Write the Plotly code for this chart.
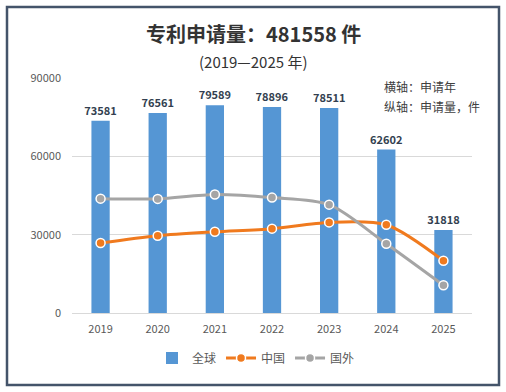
import plotly.graph_objects as go

years = ["2019", "2020", "2021", "2022", "2023", "2024", "2025"]
global_vals = [73581, 76561, 79589, 78896, 78511, 62602, 31818]
china_vals = [26800, 29600, 31100, 32300, 34700, 33800, 20000]
foreign_vals = [43800, 43700, 45400, 44200, 41500, 26500, 10600]
y_ticks = [0, 30000, 60000, 90000]

FONT = "Noto Sans CJK SC"

fig = go.Figure()
fig.add_trace(go.Bar(
    x=years, y=global_vals, name="全球", width=0.32,
    marker=dict(color="#5596d4", line=dict(width=0)),
    text=[str(v) for v in global_vals], textposition="outside",
    textfont=dict(family=FONT, size=11, color="#333f50", weight="bold"),
    constraintext="none", cliponaxis=False,
))
fig.add_trace(go.Scatter(
    x=years, y=china_vals, name="中国", mode="lines+markers",
    line=dict(color="#f07a1e", width=3, shape="spline", smoothing=0.8),
    marker=dict(size=9, color="#f07a1e", line=dict(color="white", width=1.5)),
))
fig.add_trace(go.Scatter(
    x=years, y=foreign_vals, name="国外", mode="lines+markers",
    line=dict(color="#a5a5a5", width=3, shape="spline", smoothing=0.8),
    marker=dict(size=9, color="#a5a5a5", line=dict(color="white", width=1.5)),
))

fig.update_layout(
    width=506, height=392,
    margin=dict(l=72, r=34, t=78, b=79),
    paper_bgcolor="white", plot_bgcolor="white",
    font=dict(family=FONT, size=11, color="#595959"),
    showlegend=True,
    legend=dict(orientation="h", x=0.46, xanchor="center", y=-0.13, yanchor="top",
                font=dict(family=FONT, size=12, color="#595959"),
                itemwidth=30, tracegroupgap=0),
    xaxis=dict(range=[-0.5, 6.5], showgrid=False, showline=False, ticks="",
               ticklabelstandoff=8,
               tickfont=dict(family=FONT, size=11, color="#595959")),
    yaxis=dict(range=[0, 90000], tickvals=y_ticks, ticktext=[str(v) for v in y_ticks],
               showgrid=True, gridcolor="#d9d9d9", gridwidth=1, zeroline=True,
               zerolinecolor="#d9d9d9", zerolinewidth=1, ticks="", ticklabelstandoff=10,
               tickfont=dict(family=FONT, size=11, color="#595959")),
    bargap=0.5,
)

fig.add_annotation(xref="paper", yref="paper", x=0.4525, y=(313 - 34) / 235,
                   text="<b>专利申请量：481558 件</b>", showarrow=False,
                   font=dict(family=FONT, size=20, color="#333333"),
                   xanchor="center", yanchor="middle")
fig.add_annotation(xref="paper", yref="paper", x=0.4525, y=(313 - 62) / 235,
                   text="(2019—2025 年)", showarrow=False,
                   font=dict(family=FONT, size=15, color="#333333"),
                   xanchor="center", yanchor="middle")
fig.add_annotation(xref="paper", yref="paper", x=(382 - 72) / 400, y=(313 - 86) / 235,
                   text="横轴：申请年", showarrow=False,
                   font=dict(family=FONT, size=12, color="#404040"),
                   xanchor="left", yanchor="middle")
fig.add_annotation(xref="paper", yref="paper", x=(382 - 72) / 400, y=(313 - 107) / 235,
                   text="纵轴：申请量，件", showarrow=False,
                   font=dict(family=FONT, size=12, color="#404040"),
                   xanchor="left", yanchor="middle")

fig.add_shape(type="rect", xref="paper", yref="paper",
              x0=(7 - 72) / 400, x1=(499 - 72) / 400,
              y0=(313 - 385) / 235, y1=(313 - 7) / 235,
              line=dict(color="#44546a", width=2.5), fillcolor="rgba(0,0,0,0)", layer="above")

fig.write_html("out.html", post_script="document.body.style.margin='0';",
               config={"displayModeBar": False})
